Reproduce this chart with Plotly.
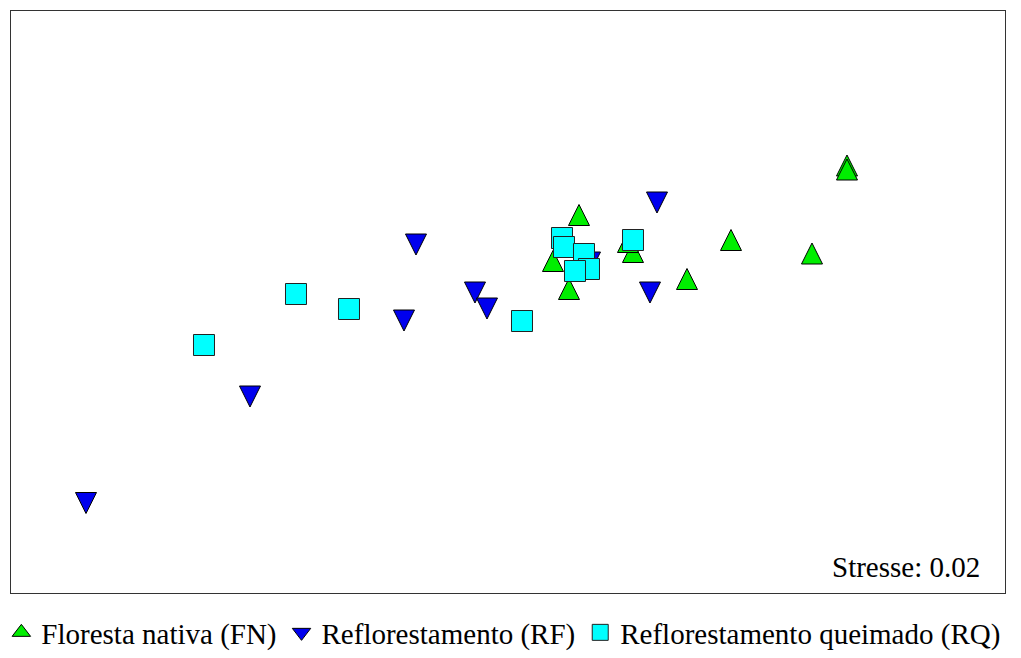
import plotly.graph_objects as go

# NMDS ordination scores (axis 1, axis 2) per sampling unit
fn_x = [1.356, 1.356, 0.284, 0.892, 1.216, 0.716, 0.180, 0.244, 0.500, 0.480]
fn_y = [0.548, 0.532, 0.350, 0.250, 0.196, 0.094, 0.166, 0.054, 0.202, 0.242]

rf_x = [0.596, -0.368, -0.132, -0.084, -0.416, 0.568, -1.032, -1.688, 0.328]
rf_y = [0.396, 0.228, 0.036, -0.028, -0.076, 0.036, -0.380, -0.806, 0.156]

rq_x = [-0.848, -0.636, 0.056, -1.216, 0.500, 0.216, 0.224, 0.304, 0.324, 0.268]
rq_y = [0.032, -0.028, -0.076, -0.172, 0.248, 0.256, 0.220, 0.192, 0.132, 0.124]

series_names = ["Floresta nativa (FN)", "Reflorestamento (RF)",
                "Reflorestamento queimado (RQ)"]
stress_label = "Stresse: 0.02"

font_family = "Liberation Serif"

fn_style = dict(color="#00ee00", line=dict(color="#000000", width=1))
rf_style = dict(color="#0000ee", line=dict(color="#000000", width=1))
rq_style = dict(color="#00ffff", line=dict(color="#222222", width=1))

fig = go.Figure()

# Data markers: near-equilateral triangles (arrow symbols centred with standoff)
fig.add_trace(go.Scatter(
    x=fn_x, y=fn_y, mode="markers", name=series_names[0],
    legendgroup="fn", showlegend=False,
    marker=dict(symbol="arrow-down", angle=180, size=21, standoff=10,
                **fn_style),
))
fig.add_trace(go.Scatter(
    x=rf_x, y=rf_y, mode="markers", name=series_names[1],
    legendgroup="rf", showlegend=False,
    marker=dict(symbol="arrow-down", size=21, standoff=10, **rf_style),
))
fig.add_trace(go.Scatter(
    x=rq_x, y=rq_y, mode="markers", name=series_names[2],
    legendgroup="rq", showlegend=False,
    marker=dict(symbol="square", size=21, **rq_style),
))

# Legend entries (centred symbols)
for name, group, symbol, style in [
        (series_names[0], "fn", "triangle-up", fn_style),
        (series_names[1], "rf", "triangle-down", rf_style),
        (series_names[2], "rq", "square", rq_style)]:
    fig.add_trace(go.Scatter(
        x=[None], y=[None], mode="markers", name=name, legendgroup=group,
        marker=dict(symbol=symbol, size=16, **style),
    ))

fig.add_annotation(
    text=stress_label, xref="paper", yref="paper", x=0.962, y=0.138,
    xanchor="right", yanchor="middle", showarrow=False,
    font=dict(family=font_family, size=29, color="#000000"),
)

axis_common = dict(showgrid=False, zeroline=False, showticklabels=False,
                   ticks="", showline=True, mirror=True,
                   linecolor="#333333", linewidth=1)

fig.update_layout(
    width=1021, height=658,
    margin=dict(l=0, r=0, t=0, b=0),
    paper_bgcolor="#ffffff", plot_bgcolor="#ffffff",
    font=dict(family=font_family),
    xaxis=dict(domain=[0.01077, 0.98433], range=[-1.988, 1.988],
               **axis_common),
    yaxis=dict(domain=[0.09878, 0.98328], range=[-1.164, 1.164],
               **axis_common),
    showlegend=True,
    legend=dict(orientation="h", x=0.493, xanchor="center", y=0.0,
                yanchor="bottom", bgcolor="rgba(0,0,0,0)",
                font=dict(family=font_family, size=29, color="#000000"),
                tracegroupgap=0),
)

fig.write_html("out.html")
